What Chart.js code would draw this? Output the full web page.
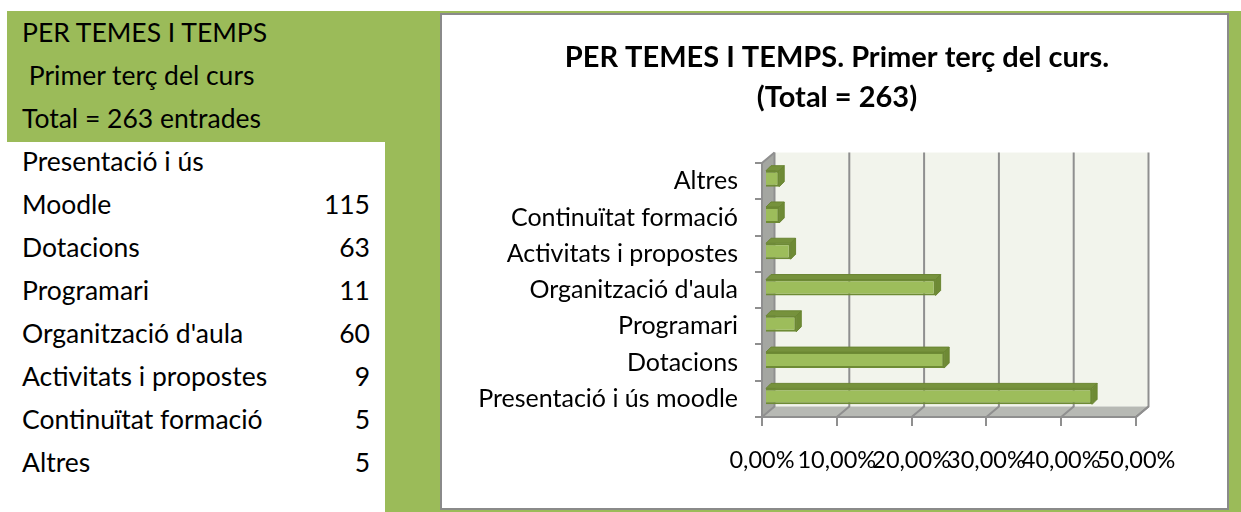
<!DOCTYPE html>
<html>
<head>
<meta charset="utf-8">
<script src="https://cdn.jsdelivr.net/npm/chart.js@4.4.0/dist/chart.umd.min.js"></script>
<style>
  body { margin: 0; width: 1241px; height: 512px; background: #fff; position: relative; overflow: hidden; font-family: Lato, "Open Sans", sans-serif; }
  #green { position: absolute; left: 7px; top: 11px; width: 1234px; height: 501px; background: #9BBB59; }
  #sheet { position: absolute; left: 7px; top: 142px; width: 378px; height: 370px; background: #fff; }
  .line { position: absolute; left: 22px; width: 348px; height: 40px; line-height: 40px; font-size: 26.5px; color: #000; white-space: nowrap; }
  .line span { position: absolute; right: 0; top: 0; }
  #box { position: absolute; left: 440px; top: 13px; width: 785px; height: 493px; border: 2px solid #8a8a8a; background: #fff; }
</style>
</head>
<body>
<div id="green"></div>
<div id="sheet"></div>
<div id="rows"></div>
<div id="box"><canvas id="myChart" width="785" height="493"></canvas></div>
<script>
const headerLines = ['PER TEMES I TEMPS', ' Primer terç del curs', 'Total = 263 entrades'];
const tableLabels = ['Presentació i ús|Moodle', 'Dotacions', 'Programari', "Organització d'aula", 'Activitats i propostes', 'Continuïtat formació', 'Altres'];
const categories = ['Presentació i ús moodle', 'Dotacions', 'Programari', "Organització d'aula", 'Activitats i propostes', 'Continuïtat formació', 'Altres'];
const counts = [115, 63, 11, 60, 9, 5, 5];
const percents = [43.73, 23.95, 4.18, 22.81, 3.42, 1.90, 1.90];
const xTicks = [0, 10, 20, 30, 40, 50];

// left table
var rows = document.getElementById('rows');
var lines = [];
headerLines.forEach(t => lines.push({ text: t, value: '' }));
tableLabels.forEach((t, i) => {
  var parts = t.split('|');
  if (parts.length > 1) lines.push({ text: parts[0], value: '' });
  lines.push({ text: parts[parts.length - 1], value: counts[i] });
});
lines.forEach((l, i) => {
  var div = document.createElement('div');
  div.className = 'line';
  div.style.top = (12 + i * 43) + 'px';
  div.textContent = l.text.replace(/^ /, '\u00a0');
  if (l.value !== '') {
    var s = document.createElement('span');
    s.textContent = l.value;
    div.appendChild(s);
  }
  rows.appendChild(div);
});

const dx = 12.5, dy = -10.5, depth = 5;
const gridColor = '#8f8f8f';

const walls = {
  id: 'walls',
  beforeDatasetsDraw(chart) {
    var ctx = chart.ctx, a = chart.chartArea, xs = chart.scales.x;
    var L = a.left, R = a.right, T = a.top, B = a.bottom;
    ctx.save();
    ctx.fillStyle = '#F2F4EC';
    ctx.fillRect(L + dx, T + dy, R - L, B - T);
    ctx.fillStyle = '#A4A6A1';
    ctx.beginPath();
    ctx.moveTo(L, T); ctx.lineTo(L + dx, T + dy); ctx.lineTo(L + dx, B + dy); ctx.lineTo(L, B);
    ctx.closePath(); ctx.fill();
    ctx.fillStyle = '#B7B9B4';
    ctx.beginPath();
    ctx.moveTo(L, B); ctx.lineTo(L + dx, B + dy); ctx.lineTo(R + dx, B + dy); ctx.lineTo(R, B);
    ctx.closePath(); ctx.fill();

    ctx.strokeStyle = gridColor;
    ctx.lineWidth = 2;
    xTicks.forEach(v => {
      var px = xs.getPixelForValue(v);
      ctx.beginPath();
      ctx.moveTo(px, B); ctx.lineTo(px + dx, B + dy); ctx.lineTo(px + dx, T + dy);
      ctx.stroke();
    });
    ctx.beginPath();
    ctx.moveTo(L + dx, T + dy); ctx.lineTo(L, T); ctx.lineTo(L, B); ctx.lineTo(R, B); ctx.lineTo(R + dx, B + dy);
    ctx.stroke();
    ctx.restore();

    ctx.save();
    ctx.translate(3, -2.5);
  },
  afterDatasetsDraw(chart) {
    var ctx = chart.ctx;
    chart.getDatasetMeta(0).data.forEach(bar => {
      var top = bar.y - bar.height / 2, bottom = bar.y + bar.height / 2;
      ctx.fillStyle = '#76923C';
      ctx.strokeStyle = '#6A8532';
      ctx.lineWidth = 1;
      ctx.beginPath();
      ctx.moveTo(bar.base, top); ctx.lineTo(bar.base + depth, top - depth);
      ctx.lineTo(bar.x + depth, top - depth); ctx.lineTo(bar.x, top);
      ctx.closePath(); ctx.fill(); ctx.stroke();
      ctx.fillStyle = '#6E8A35';
      ctx.beginPath();
      ctx.moveTo(bar.x, top); ctx.lineTo(bar.x + depth, top - depth);
      ctx.lineTo(bar.x + depth, bottom - depth); ctx.lineTo(bar.x, bottom);
      ctx.closePath(); ctx.fill(); ctx.stroke();
    });
    ctx.restore();
  }
};

var ctx = document.getElementById('myChart');

const data = {
  labels: categories,
  datasets: [
    {
      label: 'Percentatge',
      data: percents,
      backgroundColor: '#9DBD5B',
      borderColor: '#6E8B35',
      borderWidth: 2,
      barPercentage: 0.44,
      categoryPercentage: 1
    }
  ]
};

const options = {
  indexAxis: 'y',
  responsive: false,
  animation: false,
  layout: { padding: { left: 5 } },
  scales: {
    x: {
      min: 0,
      max: 50,
      afterFit: s => { s.height = 91; },
      afterBuildTicks: s => { s.ticks = xTicks.map(v => ({ value: v })); },
      ticks: {
        autoSkip: false,
        maxRotation: 0,
        minRotation: 0,
        padding: 20,
        color: '#000',
        font: { family: 'Lato', size: 23.5 },
        callback: v => v.toFixed(2).replace('.', ',') + '%'
      },
      grid: { drawOnChartArea: false, tickLength: 9, color: gridColor, lineWidth: 2 },
      border: { display: false }
    },
    y: {
      reverse: true,
      afterFit: s => { s.width = 315; },
      ticks: {
        autoSkip: false,
        padding: 17,
        color: '#000',
        font: { family: 'Lato', size: 25 }
      },
      grid: { drawOnChartArea: false, offset: true, tickLength: 7, color: gridColor, lineWidth: 2 },
      border: { display: false }
    },
    // empty space on the right of the plot
    yRight: {
      type: 'linear',
      axis: 'y',
      position: 'right',
      afterFit: s => { s.width = 91; },
      ticks: { display: false },
      grid: { display: false },
      border: { display: false }
    }
  },
  plugins: {
    legend: { display: false },
    tooltip: { enabled: false },
    title: {
      display: true,
      text: ['PER TEMES I TEMPS. Primer terç del curs.', '(Total = 263)'],
      color: '#000',
      font: { family: 'Lato', size: 29, weight: 'bold', lineHeight: 1.38 },
      padding: { top: 23, bottom: 45 }
    }
  }
};

new Chart(ctx, {
  type: 'bar',
  data: data,
  options: options,
  plugins: [walls]
});
</script>
</body>
</html>
